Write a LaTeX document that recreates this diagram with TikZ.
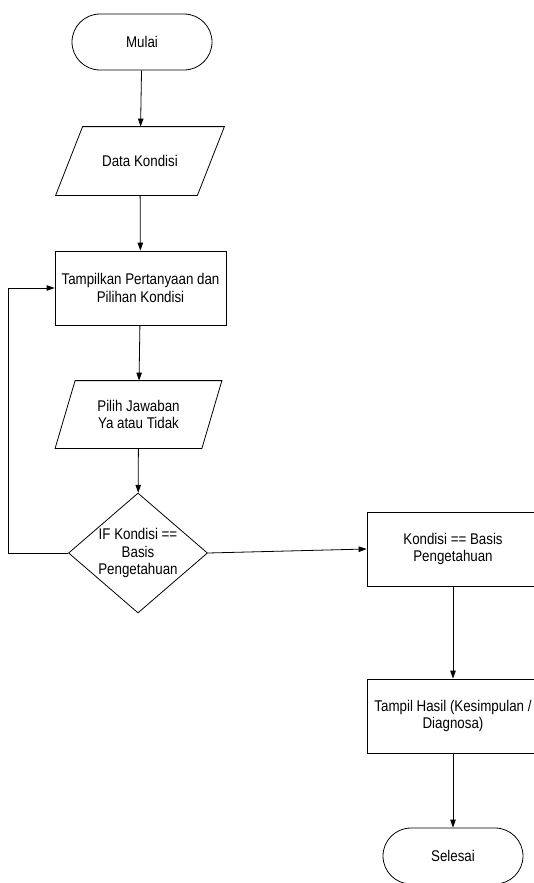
\documentclass[tikz,border=0pt]{standalone}
\usepackage{fontspec}
\setmainfont[FakeStretch=0.86]{Liberation Sans}
\usetikzlibrary{arrows.meta,shapes.geometric}

\begin{document}
\begin{tikzpicture}[x=1pt,y=-1pt,
  base/.style={draw=black, line width=0.8pt, align=center, inner sep=0pt,
    font=\fontsize{15.5}{17.5}\selectfont},
  terminal/.style={base, rectangle, rounded corners=28pt, minimum width=140pt, minimum height=56pt},
  process/.style={base, rectangle, minimum width=171pt, minimum height=74pt},
  io/.style={base, draw=none, rectangle},
  decision/.style={base, diamond, minimum width=139pt, minimum height=120pt},
  txt/.style={align=center, inner sep=0pt, font=\fontsize{15.5}{17.5}\selectfont},
  outline/.style={draw=black, line width=0.8pt, line join=miter},
  flow/.style={draw=black, line width=0.8pt, -{Triangle[length=8pt,width=5.5pt]}}
]
\useasboundingbox (0,0) rectangle (534,883);
\clip (0,0) rectangle (534,883);

% left column
\node[terminal] (start) at (142,42) {Mulai};
\node[io, minimum width=141pt, minimum height=68pt] (data) at (140,161) {Data Kondisi};
\draw[outline] ([xshift=13.5pt]data.north west) -- ([xshift=13.5pt]data.north east)
  -- ([xshift=-13.5pt]data.south east) -- ([xshift=-13.5pt]data.south west) -- cycle;
\node[process] (show) at (140.5,288) {Tampilkan Pertanyaan dan\\Pilihan Kondisi};
\node[io, minimum width=146pt, minimum height=67pt] (choose) at (138.5,414.5) {Pilih Jawaban\\Ya atau Tidak};
\draw[outline] ([xshift=10pt]choose.north west) -- ([xshift=10pt]choose.north east)
  -- ([xshift=-10pt]choose.south east) -- ([xshift=-10pt]choose.south west) -- cycle;
\node[decision] (dec) at (138,553) {};
\node[txt] (dectext) at (dec.center) {IF Kondisi ==\\Basis\\Pengetahuan};

% right column
\node[process, minimum width=172pt] (match) at (453,549) {Kondisi == Basis\\Pengetahuan};
\node[process, minimum width=172pt] (result) at (453,716) {Tampil Hasil (Kesimpulan /\\Diagnosa)};
\node[terminal] (stop) at (453,856) {Selesai};

% return path of the loop
\coordinate (loopx) at (8,0);

% connectors
\draw[flow] (start) -- (data);
\draw[flow] (data) -- (show);
\draw[flow] (show) -- (choose);
\draw[flow] (choose) -- (dec);
\draw[flow] (dec.west) -- (dec.west -| loopx) |- (show.west);
\draw[flow] (dec.east) -- (match.west);
\draw[flow] (match) -- (result);
\draw[flow] (result) -- (stop);
\end{tikzpicture}
\end{document}
